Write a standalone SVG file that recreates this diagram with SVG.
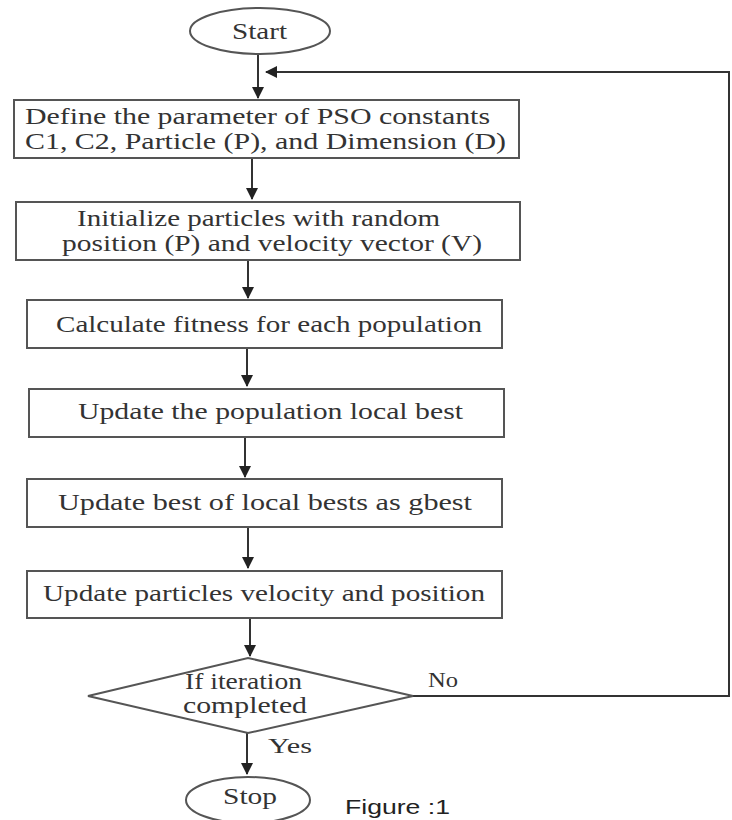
<svg xmlns="http://www.w3.org/2000/svg" width="732" height="820" viewBox="0 0 732 820">
<style>
.box{fill:#fff;stroke:#555;stroke-width:2}
.t{font-family:"Liberation Serif","Times New Roman",serif;font-size:24px;fill:#333}
.c{stroke:#333;stroke-width:2;fill:none}
.lbl{font-family:"Liberation Serif","Times New Roman",serif;font-size:22px;fill:#333}
</style>
<defs>
<marker id="ah" markerUnits="userSpaceOnUse" markerWidth="12" markerHeight="12" viewBox="0 0 12 12" refX="11" refY="6" orient="auto">
<path d="M0,0 L12,6 L0,12 Z" fill="#222"/>
</marker>
</defs>
<rect width="732" height="820" fill="#fff"/>
<g id="connectors">
<line class="c" x1="258" y1="55" x2="258" y2="98" marker-end="url(#ah)"/>
<polyline class="c" points="413,696 729,696 729,72 266,72" marker-end="url(#ah)"/>
<line class="c" x1="252" y1="159" x2="252" y2="199" marker-end="url(#ah)"/>
<line class="c" x1="248" y1="261" x2="248" y2="298" marker-end="url(#ah)"/>
<line class="c" x1="247" y1="349" x2="247" y2="386" marker-end="url(#ah)"/>
<line class="c" x1="245" y1="438" x2="245" y2="477" marker-end="url(#ah)"/>
<line class="c" x1="248" y1="528" x2="248" y2="568" marker-end="url(#ah)"/>
<line class="c" x1="250" y1="619" x2="250" y2="656" marker-end="url(#ah)"/>
<line class="c" x1="247" y1="733" x2="247" y2="774" marker-end="url(#ah)"/>
<text class="lbl" x="428" y="687" textLength="30" lengthAdjust="spacingAndGlyphs">No</text>
<text class="lbl" x="268" y="753" textLength="44" lengthAdjust="spacingAndGlyphs">Yes</text>
</g>
<g id="start">
<ellipse cx="260" cy="31" rx="70" ry="23" fill="#fff" stroke="#555" stroke-width="2"/>
<text class="t" x="232" y="39" font-size="20" textLength="55" lengthAdjust="spacingAndGlyphs">Start</text>
</g>
<g id="define">
<rect class="box" x="14" y="100" width="505" height="58"/>
<text class="t" x="25" y="124" textLength="465" lengthAdjust="spacingAndGlyphs">Define the parameter of PSO constants</text>
<text class="t" x="25" y="149" textLength="481" lengthAdjust="spacingAndGlyphs">C1, C2, Particle (P), and Dimension (D)</text>
</g>
<g id="init">
<rect class="box" x="16" y="202" width="504" height="58"/>
<text class="t" x="77" y="226" textLength="363" lengthAdjust="spacingAndGlyphs">Initialize particles with random</text>
<text class="t" x="62" y="251" textLength="420" lengthAdjust="spacingAndGlyphs">position (P) and velocity vector (V)</text>
</g>
<g id="fitness">
<rect class="box" x="27" y="300" width="475" height="48"/>
<text class="t" x="56" y="332" textLength="426" lengthAdjust="spacingAndGlyphs">Calculate fitness for each population</text>
</g>
<g id="localbest">
<rect class="box" x="29" y="389" width="475" height="48"/>
<text class="t" x="78" y="419" textLength="385" lengthAdjust="spacingAndGlyphs">Update the population local best</text>
</g>
<g id="gbest">
<rect class="box" x="27" y="479" width="475" height="48"/>
<text class="t" x="58" y="510" textLength="414" lengthAdjust="spacingAndGlyphs">Update best of local bests as gbest</text>
</g>
<g id="velocity">
<rect class="box" x="27" y="571" width="475" height="47"/>
<text class="t" x="43" y="601" textLength="442" lengthAdjust="spacingAndGlyphs">Update particles velocity and position</text>
</g>
<g id="decision">
<polygon points="88,696 248,658 413,696 248,733" fill="#fff" stroke="#555" stroke-width="2"/>
<text class="t" x="185" y="689" font-size="20" textLength="117" lengthAdjust="spacingAndGlyphs">If iteration</text>
<text class="t" x="183" y="713" font-size="20" textLength="124" lengthAdjust="spacingAndGlyphs">completed</text>
</g>
<g id="stop">
<ellipse cx="248" cy="800" rx="62" ry="23" fill="#fff" stroke="#555" stroke-width="2"/>
<text class="t" x="223" y="804" font-size="20" textLength="54" lengthAdjust="spacingAndGlyphs">Stop</text>
</g>
<g id="caption">
<text x="345" y="814" font-family="'Liberation Sans','Open Sans',sans-serif" font-size="20" fill="#222" textLength="105" lengthAdjust="spacingAndGlyphs">Figure :1</text>
</g>
</svg>
